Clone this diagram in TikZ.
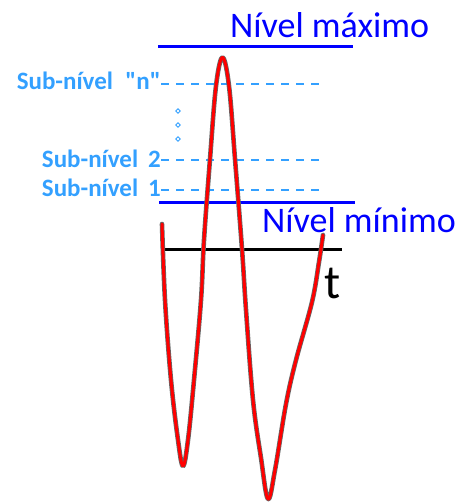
\documentclass[tikz,border=0pt]{standalone}
\usepackage{fontspec}
\setmainfont{Carlito}
\begin{document}
\begin{tikzpicture}[x=1pt,y=-1pt]
\definecolor{lvlblue}{RGB}{0,0,255}
\definecolor{subblue}{RGB}{51,160,255}
\tikzset{
  lvl/.style={draw=lvlblue, line width=3pt},
  subline/.style={draw=subblue, line width=1.8pt, dash pattern=on 8pt off 7pt},
  lvltext/.style={text=lvlblue, font=\fontsize{36}{36}\selectfont, inner sep=0pt, anchor=base west},
  subtext/.style={text=subblue, font=\bfseries\fontsize{25}{25}\selectfont, inner sep=0pt, anchor=base east},
  axis/.style={draw=black, line width=3pt},
  wave/.style={draw=black!60, line width=0.8pt, double=red, double distance=3pt, line join=round, line cap=round},
  dotmark/.style={draw=subblue, line width=0.9pt}
}
\useasboundingbox (0,0) rectangle (459,502);

% level texts
\node[lvltext] (maxtext) at (230,38) {Nível máximo};
\node[lvltext] (mintext) at (262,233) {Nível mínimo};
\node[inner sep=0pt, anchor=base west, font=\fontsize{48}{48}\selectfont] (tlabel) at (324,298) {t};

% sub-level texts
\node[subtext] (subn) at (161,90) {Sub-nível\hspace{0.5em}\textquotedbl n\textquotedbl};
\node[subtext] (sub2) at (161,168) {Sub-nível\hspace{0.4em}2};
\node[subtext] (sub1) at (161,197) {Sub-nível\hspace{0.4em}1};

% coordinates
\coordinate (maxL) at (158,47);
\coordinate (maxR) at (353,47);
\coordinate (minL) at (159,203);
\coordinate (minR) at (355,203);
\coordinate (axL) at (162,249);
\coordinate (axR) at (342,249);
\coordinate (nL) at (161,84);
\coordinate (nR) at (320,84);
\coordinate (s2L) at (161,160);
\coordinate (s2R) at (320,160);
\coordinate (s1L) at (161,190);
\coordinate (s1R) at (322,190);

% lines
\draw[lvl] (maxL) -- (maxR);
\draw[subline] (nL) -- (nR);
\draw[subline] (s2L) -- (s2R);
\draw[subline] (s1L) -- (s1R);
\draw[lvl] (minL) -- (minR);
\draw[axis] (axL) -- (axR);

% vertical dots
\foreach \yy in {111,125,139}
  \draw[dotmark] (178,\yy-2.3) -- (180.3,\yy) -- (178,\yy+2.3) -- (175.7,\yy) -- cycle;

% signal
\draw[wave] plot[smooth, tension=0.6] coordinates {
  (162,224) (165,300) (171,380) (178,440) (183,466) (188,440) (194,380) (201,300)
  (204,240) (210,159) (216,86) (222.5,57.5) (229,86) (235,159) (242,249) (246,310)
  (253,400) (261,458) (268,499) (275,470) (286,404) (296,360) (312,302) (319,262) (323,235)
};
\end{tikzpicture}
\end{document}
